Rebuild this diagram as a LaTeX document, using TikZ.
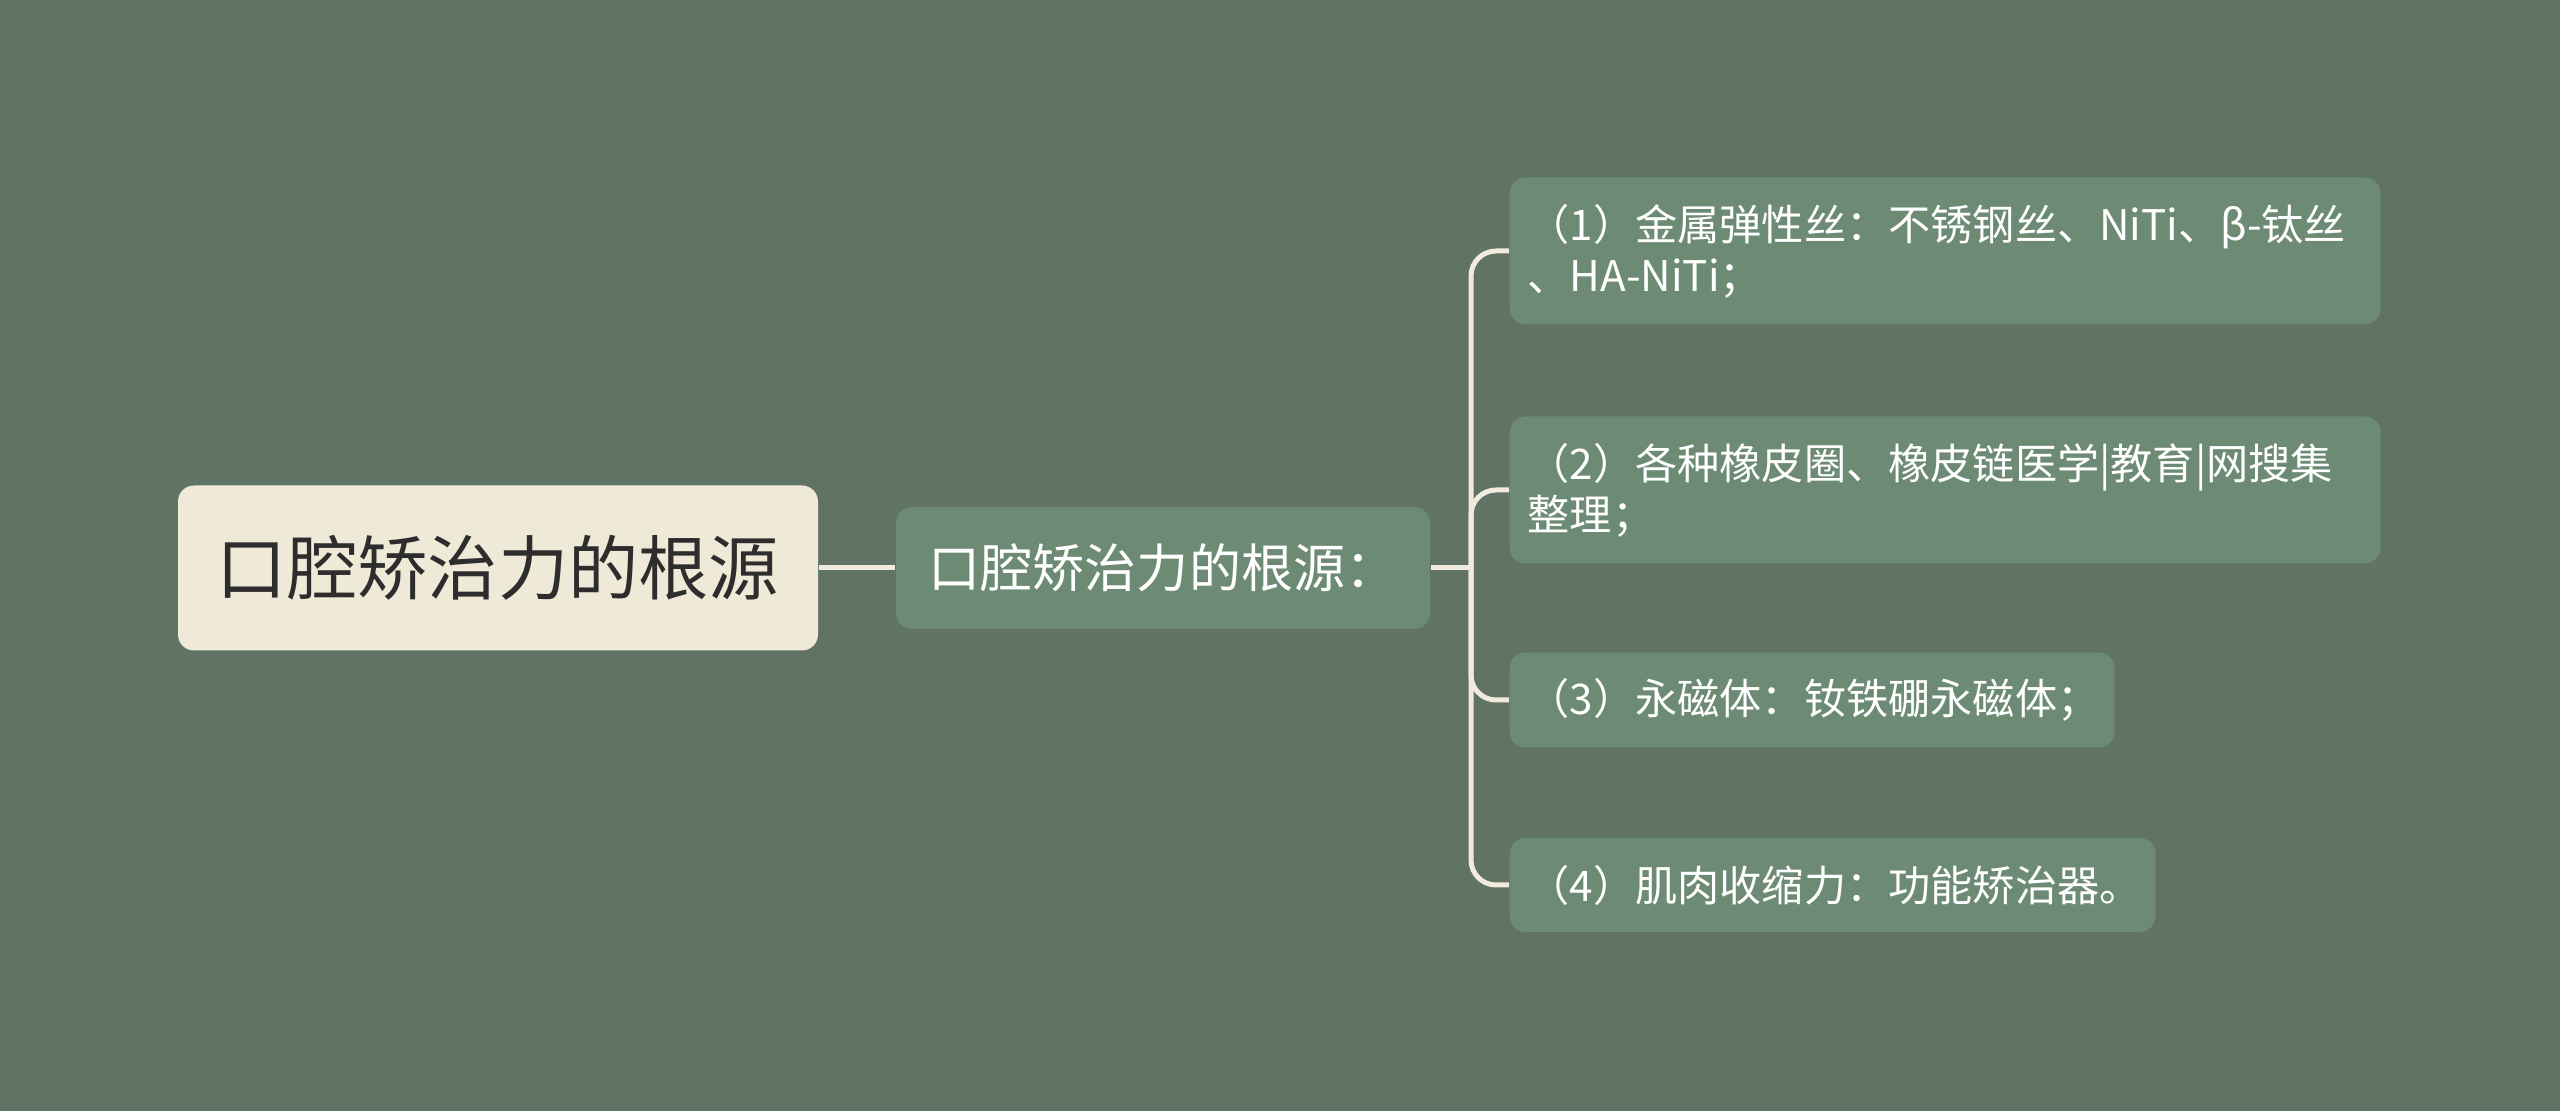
\documentclass[tikz,border=0pt]{standalone}
\usepackage{fontspec}
\newfontfamily\cjk{Noto Sans CJK SC}
\usepackage{tikz}
\usetikzlibrary{positioning}

\definecolor{bgcol}{RGB}{96,115,100}
\definecolor{rootcol}{RGB}{239,234,216}
\definecolor{subcol}{RGB}{109,139,116}
\definecolor{linkcol}{RGB}{240,235,220}
\definecolor{darktext}{RGB}{45,45,45}

\begin{document}
\begin{tikzpicture}[x=0.1mm, y=-0.1mm,
      rootbox/.style={fill=rootcol, rounded corners=1.6mm, text=darktext,
        font=\cjk\fontsize{20pt}{24pt}\selectfont, inner sep=0pt},
      subbox/.style={fill=subcol, rounded corners=1.6mm, text=white,
        font=\cjk\fontsize{14.8pt}{18pt}\selectfont, inner sep=0pt},
      leafbox/.style={fill=subcol, rounded corners=1.6mm, text=white, anchor=west,
        font=\cjk\fontsize{12pt}{14.5pt}\selectfont, align=left,
        inner xsep=1.8mm, inner ysep=0pt},
      link/.style={draw=linkcol, line width=0.5mm, rounded corners=2.5mm}]
    \fill[bgcol] (0,0) rectangle (2560,1111);
    \node[rootbox, minimum width=64mm, minimum height=16.5mm] (root) at (498,568) {口腔矫治力的根源};
    \node[subbox, minimum width=53.4mm, minimum height=12.2mm] (sub) at (1163,568) {口腔矫治力的根源：};
    \coordinate (jn) at (1471,568);
    \node[leafbox, minimum width=87.1mm, minimum height=14.7mm, text width=83.5mm] (wire) at (1509,251)
      {（1）金属弹性丝：不锈钢丝、NiTi、β-钛丝\\、HA-NiTi；};
    \node[leafbox, minimum width=87.1mm, minimum height=14.7mm, text width=83.5mm] (rubber) at (1509,490)
      {（2）各种橡皮圈、橡皮链医学|教育|网搜集\\整理；};
    \node[leafbox, minimum width=60.5mm, minimum height=9.5mm, text width=56.9mm] (magnet) at (1509,700)
      {（3）永磁体：钕铁硼永磁体；};
    \node[leafbox, minimum width=64.6mm, minimum height=9.4mm, text width=61mm] (muscle) at (1509,885)
      {（4）肌肉收缩力：功能矫治器。};
    \draw[link] (root.east) -- (sub.west);
    \draw[link] (sub.east) -- (jn);
    \foreach \leaf in {wire,rubber,magnet,muscle}
      \draw[link] (jn) |- (\leaf.west);
  \end{tikzpicture}
\end{document}
